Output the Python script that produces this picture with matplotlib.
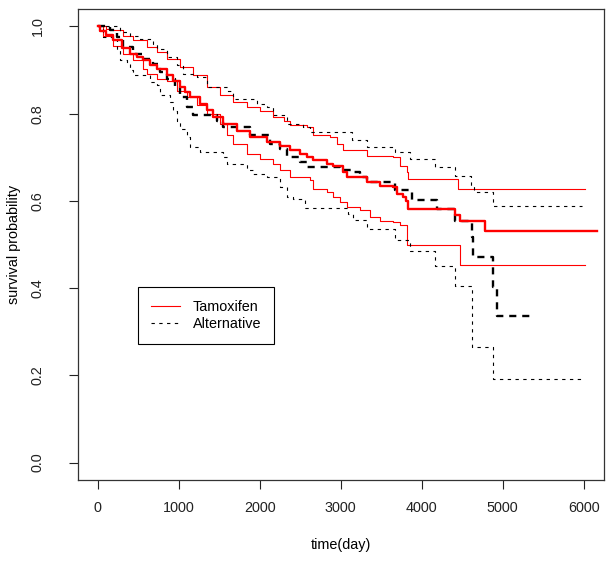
import numpy as np
import matplotlib.pyplot as plt

plt.rcParams['font.family'] = ['Liberation Sans', 'DejaVu Sans']

# Tamoxifen: Kaplan-Meier estimate and confidence band (time in days)
tam_t = [0, 28, 100, 193, 300, 399, 480, 563, 650, 728, 852, 930, 1016, 1080,
         1140, 1263, 1350, 1428, 1551, 1716, 1880, 2086, 2251, 2374, 2498, 2580,
         2662, 2827, 2909, 3032, 3074, 3321, 3485, 3650, 3691, 3773, 3800, 3835,
         4411, 4473, 4781, 6160]
tam_s = [1.0, 0.99, 0.98, 0.968, 0.95, 0.937, 0.93, 0.922, 0.912, 0.903, 0.888,
         0.875, 0.861, 0.85, 0.838, 0.823, 0.808, 0.792, 0.777, 0.761, 0.746,
         0.735, 0.727, 0.716, 0.708, 0.70, 0.693, 0.685, 0.681, 0.666, 0.654,
         0.643, 0.635, 0.631, 0.616, 0.609, 0.60, 0.582, 0.567, 0.555, 0.532, 0.532]

tam_up_t = [0, 100, 193, 316, 440, 605, 728, 852, 1016, 1181, 1345, 1510, 1674,
            1840, 2004, 2168, 2300, 2374, 2580, 2662, 2868, 2951, 3032, 3321,
            3650, 3732, 3815, 3835, 4450, 6016]
tam_up_s = [1.0, 0.995, 0.991, 0.979, 0.968, 0.953, 0.941, 0.926, 0.907, 0.888,
            0.861, 0.842, 0.827, 0.815, 0.807, 0.792, 0.784, 0.773, 0.769, 0.750,
            0.746, 0.731, 0.716, 0.704, 0.700, 0.681, 0.666, 0.651, 0.628, 0.628]

tam_lo_t = [0, 69, 193, 316, 440, 563, 605, 728, 852, 975, 1099, 1222, 1345,
            1510, 1592, 1674, 1840, 2004, 2168, 2251, 2374, 2621, 2662, 2827,
            2909, 2991, 3074, 3238, 3362, 3485, 3650, 3732, 3814, 4473, 6016]
tam_lo_s = [1.0, 0.979, 0.955, 0.937, 0.922, 0.903, 0.892, 0.880, 0.876, 0.853,
            0.838, 0.819, 0.800, 0.777, 0.750, 0.731, 0.708, 0.697, 0.685, 0.670,
            0.654, 0.647, 0.628, 0.620, 0.609, 0.597, 0.586, 0.578, 0.563, 0.555,
            0.551, 0.544, 0.498, 0.452, 0.452]

# Alternative: Kaplan-Meier estimate and confidence band
alt_t = [0, 152, 234, 316, 440, 563, 687, 769, 852, 954, 1016, 1099, 1181, 1469,
         1551, 1880, 2127, 2251, 2333, 2498, 2580, 2991, 3136, 3238, 3321, 3670,
         3876, 4185, 4411, 4617, 4637, 4884, 4926, 5337]
alt_s = [1.0, 0.991, 0.976, 0.953, 0.937, 0.926, 0.914, 0.895, 0.880, 0.861,
         0.838, 0.815, 0.796, 0.784, 0.769, 0.750, 0.731, 0.720, 0.700, 0.689,
         0.677, 0.670, 0.666, 0.654, 0.643, 0.624, 0.602, 0.582, 0.555, 0.517,
         0.472, 0.402, 0.337, 0.337]

alt_up_t = [0, 275, 399, 522, 687, 728, 852, 975, 1057, 1222, 1345, 1592, 1674,
            1963, 2086, 2168, 2333, 2539, 2621, 3136, 3321, 3670, 3856, 4164,
            4411, 4610, 4650, 4884, 5975]
alt_up_s = [1.0, 0.987, 0.979, 0.972, 0.960, 0.949, 0.930, 0.911, 0.892, 0.884,
            0.861, 0.853, 0.834, 0.823, 0.815, 0.796, 0.777, 0.769, 0.758, 0.739,
            0.723, 0.712, 0.695, 0.677, 0.658, 0.635, 0.620, 0.589, 0.589]

alt_lo_t = [0, 69, 193, 234, 275, 358, 399, 440, 646, 728, 769, 893, 934, 975,
            1016, 1099, 1140, 1263, 1551, 1592, 1840, 1921, 2086, 2251, 2333,
            2415, 2560, 3094, 3156, 3321, 3670, 3856, 4164, 4411, 4617, 4884, 6012]
alt_lo_s = [1.0, 0.976, 0.968, 0.945, 0.922, 0.914, 0.899, 0.888, 0.872, 0.865,
            0.842, 0.827, 0.807, 0.784, 0.765, 0.746, 0.723, 0.712, 0.700, 0.685,
            0.670, 0.662, 0.654, 0.631, 0.609, 0.605, 0.584, 0.570, 0.557, 0.536,
            0.511, 0.486, 0.450, 0.404, 0.264, 0.192, 0.192]

xticks = [0, 1000, 2000, 3000, 4000, 5000, 6000]
yticks = [0.0, 0.2, 0.4, 0.6, 0.8, 1.0]

fig = plt.figure(figsize=(6.14, 5.62), dpi=100)
ax = fig.add_axes([78/614, 1 - 480/562, 526/614, 471/562])

thin_dash = (3, 4)
thick_dash = (3, 2.5)

ax.step(tam_up_t, tam_up_s, where='post', color='red', lw=0.8)
ax.step(tam_lo_t, tam_lo_s, where='post', color='red', lw=0.8)
ax.step(alt_up_t, alt_up_s, where='post', color='black', lw=0.8, dashes=thin_dash)
ax.step(alt_lo_t, alt_lo_s, where='post', color='black', lw=0.8, dashes=thin_dash)
ax.step(alt_t, alt_s, where='post', color='black', lw=1.7, dashes=thick_dash)
ax.step(tam_t, tam_s, where='post', color='red', lw=1.7)

ax.set_xlim(-243, 6250)
ax.set_ylim(-0.04, 1.04)
ax.set_xticks(xticks)
ax.set_yticks(yticks)
ax.set_xticklabels([str(v) for v in xticks])
ax.set_yticklabels(['%.1f' % v for v in yticks], rotation=90, va='center')
ax.tick_params(direction='out', length=6.2, width=0.8, labelsize=10.4,
               colors='#222222')
ax.tick_params(axis='x', pad=9)
ax.tick_params(axis='y', pad=18)
for sp in ax.spines.values():
    sp.set_linewidth(0.9)
    sp.set_color('#333333')

ax.set_xlabel('time(day)', fontsize=10.4)
ax.xaxis.label.set_va('center')
ax.xaxis.set_label_coords(0.5, (480 - 545) / 471)
ax.set_ylabel('survival probability', fontsize=10.4)
ax.yaxis.label.set_va('center')
ax.yaxis.set_label_coords((14 - 78) / 526, 0.5)

h1, = ax.plot([], [], color='red', lw=0.8)
h2, = ax.plot([], [], color='black', lw=0.8, dashes=thin_dash)
leg = ax.legend([h1, h2], ['Tamoxifen', 'Alternative'], loc='upper left',
                bbox_to_anchor=((138 - 78) / 526, (480 - 287) / 471),
                borderaxespad=0, fancybox=False, framealpha=1,
                edgecolor='black', fontsize=10.4, handlelength=2.0,
                handletextpad=0.9, labelspacing=0.2, borderpad=0.9)
leg.get_frame().set_linewidth(0.8)

fig.savefig('out.png', dpi=100)
